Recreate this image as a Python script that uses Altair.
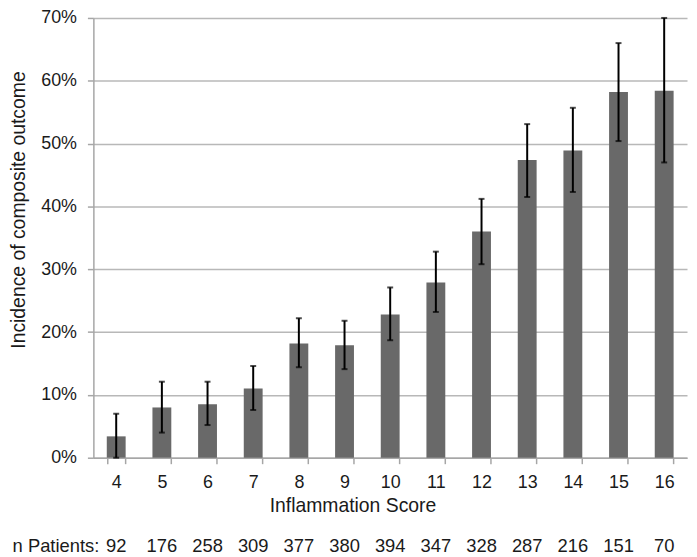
import altair as alt
import pandas as pd

scores = [4, 5, 6, 7, 8, 9, 10, 11, 12, 13, 14, 15, 16]
incidence = [3.4, 8.0, 8.5, 11.0, 18.2, 17.9, 22.8, 27.9, 36.0, 47.4, 48.9, 58.2, 58.4]
ci_lower = [0.0, 4.0, 5.2, 7.6, 14.4, 14.1, 18.7, 23.2, 30.8, 41.5, 42.3, 50.4, 47.0]
ci_upper = [7.0, 12.1, 12.1, 14.6, 22.2, 21.8, 27.1, 32.8, 41.2, 53.1, 55.7, 66.0, 70.0]
n_patients = [92, 176, 258, 309, 377, 380, 394, 347, 328, 287, 216, 151, 70]
y_ticks = [0, 0.1, 0.2, 0.3, 0.4, 0.5, 0.6, 0.7]

df = pd.DataFrame({
    "score": scores,
    "incidence": [v / 100 for v in incidence],
    "lower": [v / 100 for v in ci_lower],
    "upper": [v / 100 for v in ci_upper],
    "n": [str(v) for v in n_patients],
})

W, H = 598, 443
TXT = "#1a1a1a"
AX = "#a6a6a6"
LBL = 18
TTL = 19.5
YT = "Incidence of composite outcome"
XT = "Inflammation Score"

xscale = alt.Scale(paddingInner=0.587, paddingOuter=0.2935)
yscale = alt.Scale(domain=[0, 0.7], nice=False)

x_axis = alt.Axis(
    title=XT, labelAngle=0, tickBand="extent", tickSize=6, tickColor=AX,
    domainColor=AX, domainWidth=1.5, tickWidth=1.5, labelFontSize=LBL,
    labelPadding=10, labelColor=TXT, titleFontSize=TTL, titleFontWeight="normal",
    titleColor=TXT, titleX=261, titleY=54, titleBaseline="alphabetic",
    titleAlign="center", grid=False,
)
y_axis = alt.Axis(
    title=YT, format=".0%", values=y_ticks, tickSize=6, tickColor=AX,
    tickWidth=1.5, domainColor=AX, domainWidth=1.5, labelPadding=11,
    labelFontSize=LBL, labelColor=TXT, grid=True, gridColor="#b8b8b8",
    gridWidth=1.5, titleFontSize=TTL, titleFontWeight="normal", titleColor=TXT,
    titleX=-75, titleY=193, titleAlign="center", titleBaseline="middle",
    titleAngle=270,
)

X = alt.X("score:O", scale=xscale, axis=x_axis, title=XT)

base = alt.Chart(df)

bars = base.mark_bar(color="#696969").encode(
    x=X,
    y=alt.Y("incidence:Q", scale=yscale, axis=y_axis, title=YT),
)
rules = base.mark_rule(color="black", strokeWidth=2).encode(
    x=X,
    y=alt.Y("lower:Q", scale=yscale, title=YT),
    y2="upper:Q",
)
cap_hi = base.mark_tick(color="black", size=6, thickness=2).encode(
    x=X, y=alt.Y("upper:Q", scale=yscale, title=YT)
)
cap_lo = base.mark_tick(color="black", size=6, thickness=2).encode(
    x=X, y=alt.Y("lower:Q", scale=yscale, title=YT)
)
n_text = base.mark_text(
    fontSize=18.5, color=TXT, baseline="alphabetic", align="center"
).encode(
    x=X, y=alt.value(H + 95), text="n:N"
)
n_label = alt.Chart(pd.DataFrame({"t": ["n Patients:"]})).mark_text(
    fontSize=18.5, color=TXT, baseline="alphabetic", align="right"
).encode(
    x=alt.value(6), y=alt.value(H + 95), text="t:N"
)

chart = (
    alt.layer(bars, rules, cap_hi, cap_lo, n_text, n_label)
    .properties(
        width=W, height=H,
        autosize=alt.AutoSizeParams(type="none"),
        padding={"left": 86, "top": 8, "right": 2, "bottom": 99},
    )
    .configure(font="Liberation Sans")
    .configure_view(strokeWidth=0)
)

chart.save("out.html", embed_options={"renderer": "svg", "actions": False})
